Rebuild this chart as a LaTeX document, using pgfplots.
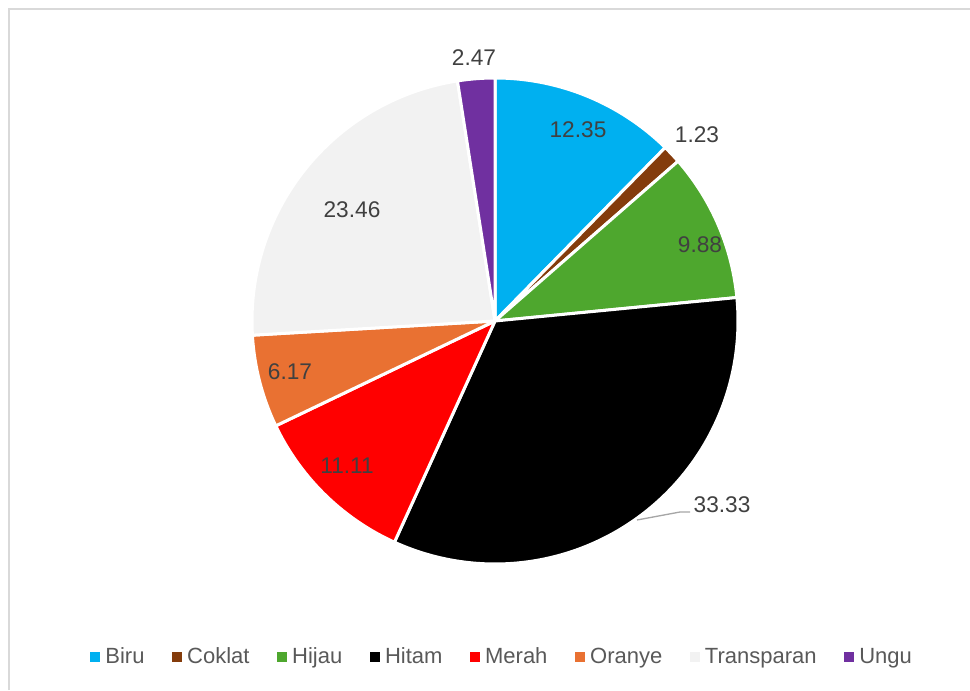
\documentclass[border=0pt]{standalone}
\usepackage{pgfplots}
\pgfplotsset{compat=1.18}
\usepackage{pgfplotstable}
\usepackage{fontspec}
\setmainfont{Liberation Sans}
\definecolor{cBiru}{HTML}{00B0F0}
\definecolor{cCoklat}{HTML}{843C0C}
\definecolor{cHijau}{HTML}{4EA72E}
\definecolor{cHitam}{HTML}{000000}
\definecolor{cMerah}{HTML}{FF0000}
\definecolor{cOranye}{HTML}{E97132}
\definecolor{cTransparan}{HTML}{F2F2F2}
\definecolor{cUngu}{HTML}{7030A0}
\definecolor{lbl}{HTML}{404040}
\definecolor{legtxt}{HTML}{595959}
\definecolor{frame}{HTML}{D9D9D9}
\definecolor{leader}{HTML}{A6A6A6}

% name, value (percent), label position (pixels, y from top)
\pgfplotstableread{
name value lx ly
Biru 12.35 578 130
Coklat 1.23 697 135
Hijau 9.88 700 245
Hitam 33.33 722 505
Merah 11.11 347 466
Oranye 6.17 290 372
Transparan 23.46 352 210
Ungu 2.47 474 58
}\piedata

\begin{document}
\begin{tikzpicture}
\begin{axis}[
  scale only axis, width=727.5pt, height=517.5pt,
  xmin=0, xmax=970, ymin=0, ymax=690,
  hide axis, clip=false,
  legend columns=8,
  legend style={at={(0.5175,0.0478)}, anchor=center, draw=none, fill=none,
    font=\fontsize{16.5}{19}\selectfont, text=legtxt,
    nodes={inner sep=1.5pt},
    /tikz/every odd column/.append style={column sep=2.5pt},
    /tikz/every even column/.append style={column sep=19pt}},
  legend image code/.code={\fill[#1,draw=none] (0pt,-3.75pt) rectangle (7.5pt,3.75pt);},
]
\draw[frame, line width=1.5pt] (axis cs:9,0) -- (axis cs:9,681) -- (axis cs:970,681);
\pgfplotstablegetrowsof{\piedata}
\pgfmathtruncatemacro\nrows{\pgfplotsretval-1}
\def\cum{0}
\pgfplotsforeachungrouped \i in {0,...,\nrows}{%
  \pgfplotstablegetelem{\i}{name}\of\piedata \let\nm\pgfplotsretval
  \pgfplotstablegetelem{\i}{value}\of\piedata \let\val\pgfplotsretval
  \pgfmathsetmacro\astart{90-3.6*\cum}%
  \pgfmathsetmacro\aend{90-3.6*(\cum+\val)}%
  \pgfmathsetmacro\cum{\cum+\val}%
  \edef\doplot{\noexpand\addplot[fill=c\nm, draw=white, line width=2.25pt, line join=round,
     domain=\aend:\astart, samples=120, variable=\noexpand\t]
     ({495+243*cos(\noexpand\t)},{369+243*sin(\noexpand\t)}) -- (axis cs:495,369) -- cycle;
     \noexpand\addlegendentry{\nm}}%
  \doplot
}
\draw[leader, line width=1pt] (axis cs:637,170) -- (axis cs:680,178) -- (axis cs:690,178);
\addplot[forget plot, only marks, mark=none, nodes near coords,
  point meta=explicit symbolic,
  every node near coord/.append style={anchor=center, inner sep=0pt, text=lbl,
    font=\fontsize{17}{20}\selectfont}]
  table[x=lx, y expr=690-\thisrow{ly}, meta=value] {\piedata};
\end{axis}
\pgfresetboundingbox
\path[use as bounding box] (current axis.south west) rectangle (current axis.north east);
\end{tikzpicture}
\end{document}
